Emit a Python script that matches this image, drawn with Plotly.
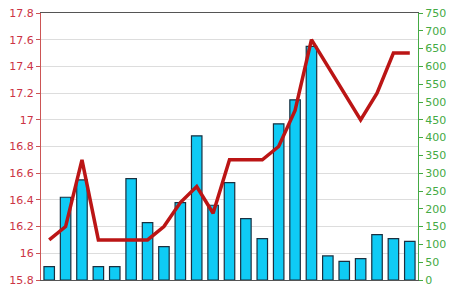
import plotly.graph_objects as go

categories = [f"P{i}" for i in range(1, 24)]
bar_values = [15.9, 16.42, 16.55, 15.9, 15.9, 16.56, 16.23, 16.05, 16.38, 16.88,
              16.36, 16.53, 16.26, 16.11, 16.97, 17.15, 17.55, 15.98, 15.94, 15.96,
              16.14, 16.11, 16.09]
line_values = [16.1, 16.2, 16.7, 16.1, 16.1, 16.1, 16.1, 16.2, 16.38, 16.5,
               16.3, 16.7, 16.7, 16.7, 16.8, 17.07, 17.6, 17.4, 17.2, 17.0,
               17.2, 17.5, 17.5]
left_ticks = [15.8, 16.0, 16.2, 16.4, 16.6, 16.8, 17.0, 17.2, 17.4, 17.6, 17.8]
left_labels = ["15.8", "16", "16.2", "16.4", "16.6", "16.8", "17", "17.2", "17.4", "17.6", "17.8"]
right_ticks = list(range(0, 751, 50))
base_value = 15.8

fig = go.Figure()
fig.add_trace(go.Bar(x=categories, y=[v - base_value for v in bar_values], base=base_value,
                     marker=dict(color="#0fcbf5", line=dict(color="#1a3040", width=1.2)),
                     yaxis="y"))
fig.add_trace(go.Scatter(x=categories, y=line_values, mode="lines",
                         line=dict(color="#bb1515", width=3.5), yaxis="y"))
# empty trace so the right-hand scale is drawn
fig.add_trace(go.Scatter(x=[], y=[], yaxis="y2", mode="lines", hoverinfo="skip"))

font_lbl = dict(family="DejaVu Sans, Verdana", size=11)
fig.update_layout(
    width=450, height=291,
    margin=dict(l=41, r=32, t=13, b=11, autoexpand=False),
    paper_bgcolor="white", plot_bgcolor="white",
    showlegend=False, bargap=0.36,
    xaxis=dict(showticklabels=False, ticks="", showgrid=False,
               showline=True, linecolor="#555555", linewidth=1, mirror=True,
               zeroline=False),
    yaxis=dict(range=[15.8, 17.8], tickvals=left_ticks, ticktext=left_labels,
               tickfont=dict(color="#cc3344", **font_lbl),
               ticks="outside", ticklen=4, tickcolor="#cc5555",
               showline=True, linecolor="#cc5555", linewidth=1,
               gridcolor="#dddddd", gridwidth=1, zeroline=False),
    yaxis2=dict(range=[0, 750], tickvals=right_ticks, overlaying="y", side="right",
                tickfont=dict(color="#44aa44", **font_lbl),
                ticks="outside", ticklen=4, tickcolor="#44aa44",
                showline=True, linecolor="#44aa44", linewidth=1,
                showgrid=False, zeroline=False),
)
fig.write_html("out.html")
